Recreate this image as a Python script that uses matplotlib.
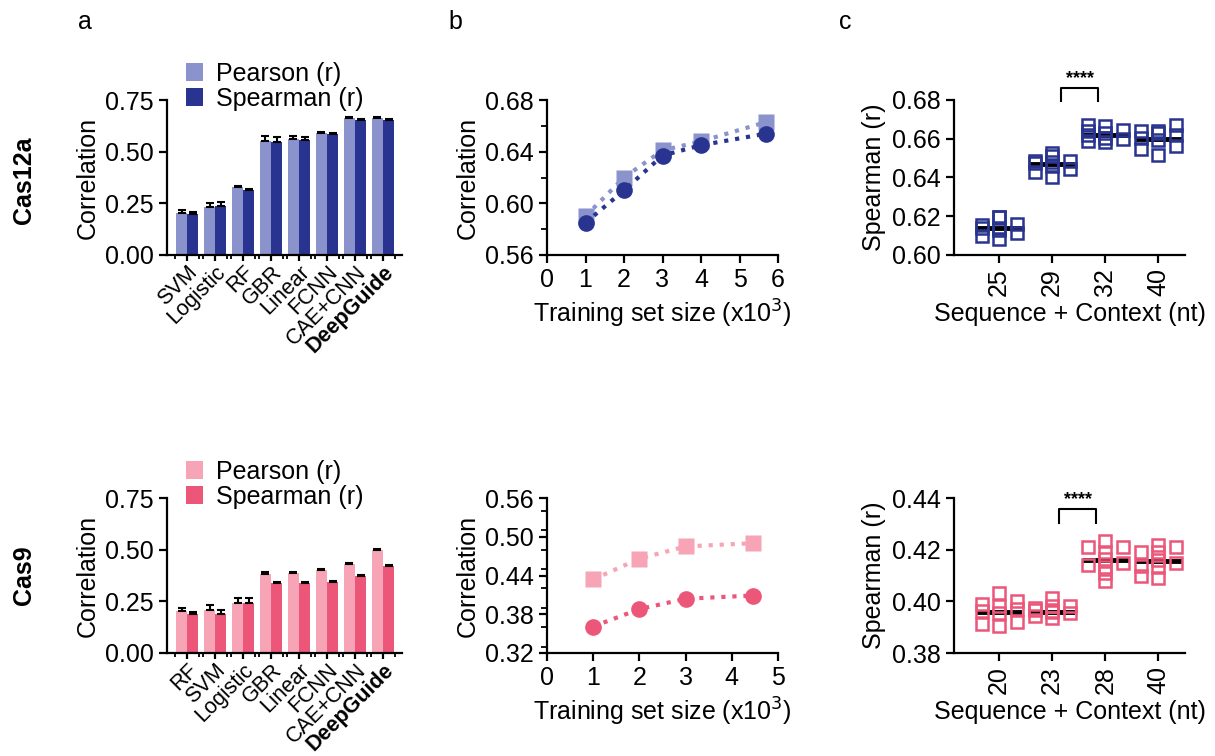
import numpy as np
import matplotlib.pyplot as plt
from matplotlib.ticker import MultipleLocator, FixedLocator

plt.rcParams['font.family'] = ['Liberation Sans', 'DejaVu Sans']
plt.rcParams['font.size'] = 18
plt.rcParams['axes.linewidth'] = 1.6
plt.rcParams['xtick.major.width'] = 1.6
plt.rcParams['ytick.major.width'] = 1.6
plt.rcParams['xtick.major.size'] = 6
plt.rcParams['ytick.major.size'] = 6
plt.rcParams['xtick.minor.width'] = 1.3
plt.rcParams['ytick.minor.width'] = 1.3

# ---- data ----
models_12a = ["SVM", "Logistic", "RF", "GBR", "Linear", "FCNN", "CAE+CNN", "DeepGuide"]
pear_12a = [0.205, 0.234, 0.327, 0.552, 0.563, 0.590, 0.663, 0.663]
spear_12a = [0.200, 0.235, 0.315, 0.548, 0.558, 0.585, 0.655, 0.655]
pear_err_12a = [0.012, 0.020, 0.005, 0.022, 0.012, 0.005, 0.004, 0.004]
spear_err_12a = [0.010, 0.020, 0.006, 0.022, 0.012, 0.005, 0.004, 0.004]

models_9 = ["RF", "SVM", "Logistic", "GBR", "Linear", "FCNN", "CAE+CNN", "DeepGuide"]
pear_9 = [0.205, 0.210, 0.242, 0.384, 0.385, 0.403, 0.431, 0.498]
spear_9 = [0.189, 0.189, 0.242, 0.337, 0.340, 0.342, 0.371, 0.421]
pear_err_9 = [0.012, 0.020, 0.022, 0.006, 0.005, 0.005, 0.005, 0.005]
spear_err_9 = [0.010, 0.020, 0.022, 0.005, 0.005, 0.005, 0.005, 0.005]

size_12a = [1, 2, 3, 4, 5.7]
size_pear_12a = [0.590, 0.620, 0.641, 0.648, 0.663]
size_spear_12a = [0.585, 0.610, 0.637, 0.645, 0.654]

size_9 = [1, 2, 3, 4.45]
size_pear_9 = [0.434, 0.466, 0.485, 0.490]
size_spear_9 = [0.361, 0.388, 0.404, 0.409]

ctx_12a = ["25", "29", "32", "40"]
ctx_vals_12a = [
    [0.6161, 0.6139, 0.6084, 0.6099, 0.6195, 0.6195, 0.6153, 0.6139, 0.6130, 0.6113],
    [0.6513, 0.6484, 0.6475, 0.6458, 0.6446, 0.6426, 0.6405, 0.6526, 0.6484, 0.6478],
    [0.6672, 0.6664, 0.6638, 0.6629, 0.6603, 0.6598, 0.6586, 0.6581, 0.6643, 0.6620],
    [0.6672, 0.6638, 0.6620, 0.6603, 0.6560, 0.6547, 0.6518, 0.6629, 0.6595, 0.6641],
]
ctx_med_12a = [0.614, 0.647, 0.662, 0.660]

ctx_9 = ["20", "23", "28", "40"]
ctx_vals_9 = [
    [0.4003, 0.4032, 0.3970, 0.3981, 0.3991, 0.3955, 0.3920, 0.3912, 0.3903, 0.3961],
    [0.4013, 0.3981, 0.3961, 0.3955, 0.3935, 0.3942, 0.3974, 0.3983, 0.3959, 0.3965],
    [0.4235, 0.4209, 0.4209, 0.4190, 0.4148, 0.4132, 0.4140, 0.4110, 0.4080, 0.4164],
    [0.4219, 0.4209, 0.4190, 0.4190, 0.4161, 0.4148, 0.4132, 0.4135, 0.4100, 0.4090],
]
ctx_med_9 = [0.396, 0.396, 0.416, 0.4155]

blue_l, blue_d = "#8a93cc", "#28348f"
pink_l, pink_d = "#f7a5b6", "#ec5678"

fig = plt.figure(figsize=(12.15, 7.56), dpi=100)
W, H = 1215, 756


def add_ax(x0, y0, x1, y1):
    return fig.add_axes([x0 / W, 1 - y1 / H, (x1 - x0) / W, (y1 - y0) / H])


def style(ax):
    ax.spines['top'].set_visible(False)
    ax.spines['right'].set_visible(False)


def bars(ax, models, pear, spear, perr, serr, cl, cd):
    x = np.arange(len(models))
    z = np.zeros(len(models))
    ek = dict(ecolor='black', elinewidth=1.5, capsize=3, capthick=1.5)
    ax.bar(x - 0.2, pear, 0.38, color=cl, yerr=[z, perr], error_kw=ek, label="Pearson (r)")
    ax.bar(x + 0.2, spear, 0.38, color=cd, yerr=[z, serr], error_kw=ek, label="Spearman (r)")
    ax.set_xlim(-0.72, 7.68)
    ax.set_ylim(0, 0.75)
    ax.set_yticks([0, 0.25, 0.5, 0.75])
    ax.set_xticks(x)
    ax.xaxis.set_minor_locator(FixedLocator(np.concatenate([x - 0.42, x + 0.42])))
    ax.tick_params(axis='x', which='minor', length=3)
    ax.tick_params(axis='x', which='major', length=4, pad=1)
    ax.set_xticklabels(models, rotation=45, ha='right', rotation_mode='anchor', fontsize=15.5)
    ax.get_xticklabels()[-1].set_fontweight('bold')
    ax.set_ylabel("Correlation")
    ax.legend(loc='lower left', bbox_to_anchor=(0.08, 0.93), frameon=False, handlelength=0.7,
              handleheight=0.7, handletextpad=0.5, labelspacing=0.05, borderpad=0, borderaxespad=0)
    style(ax)


def lines(ax, xs, pear, spear, cl, cd, xmax, yt, ymin_step):
    ax.plot(xs, pear, ls=':', lw=3, color=cl, marker='s', ms=12, mec='none', zorder=2)
    ax.plot(xs, spear, ls=':', lw=3, color=cd, marker='o', ms=12, mec='none', zorder=3)
    ax.set_xlim(0, xmax)
    ax.set_xticks(range(xmax + 1))
    ax.set_ylim(yt[0], yt[-1])
    ax.set_yticks(yt)
    ax.yaxis.set_minor_locator(MultipleLocator(ymin_step))
    ax.tick_params(axis='y', which='minor', length=4)
    ax.set_xlabel("Training set size (x10$^3$)")
    ax.set_ylabel("Correlation")
    style(ax)


def swarm(vals, step, wx, hy):
    # simple beeswarm: place each point at the nearest free horizontal slot
    order = np.argsort(vals)
    placed = []
    offs = np.zeros(len(vals))
    cands = [0.0]
    for k in range(1, 3):
        cands += [-k * step, k * step]
    for i in order:
        y = vals[i]
        best, best_hits = cands[0], None
        for c in cands:
            hits = sum(1 for px, py in placed if abs(c - px) < wx and abs(y - py) < hy)
            if hits == 0:
                best = c
                break
            if best_hits is None or hits < best_hits:
                best, best_hits = c, hits
        placed.append((best, y))
        offs[i] = best
    return offs


def dots(ax, labels, vals, meds, color, yt, hy, br):
    for i, v in enumerate(vals):
        v = np.array(v)
        off = swarm(v, 0.165, 0.22, hy)
        ax.plot(i + off, v, ls='none', marker='s', ms=8.5, mfc='none', mec=color, mew=1.8, zorder=3)
        ax.plot([i - 0.38, i + 0.38], [meds[i], meds[i]], color='black', lw=3.5, zorder=2)
    ax.set_xlim(-0.85, 3.5)
    ax.set_ylim(yt[0], yt[-1])
    ax.set_yticks(yt)
    ax.set_xticks(range(len(labels)))
    ax.set_xticklabels(labels, rotation=90)
    ax.set_xlabel("Sequence + Context (nt)")
    ax.set_ylabel("Spearman (r)")
    x0, x1, ylo, yhi, ys = br
    ax.plot([x0, x0, x1, x1], [ylo, yhi, yhi, ylo], color='black', lw=1.5, clip_on=False)
    ax.text((x0 + x1) / 2, ys, "****", ha='center', va='bottom', fontsize=13, fontweight='bold')
    style(ax)


ax = add_ax(167, 100, 402, 255)
bars(ax, models_12a, pear_12a, spear_12a, pear_err_12a, spear_err_12a, blue_l, blue_d)
ax = add_ax(167, 498, 402, 653)
bars(ax, models_9, pear_9, spear_9, pear_err_9, spear_err_9, pink_l, pink_d)

ax = add_ax(547, 100, 778, 255)
lines(ax, size_12a, size_pear_12a, size_spear_12a, blue_l, blue_d, 6, [0.56, 0.60, 0.64, 0.68], 0.02)
ax = add_ax(547, 498, 778, 653)
lines(ax, size_9, size_pear_9, size_spear_9, pink_l, pink_d, 5, [0.32, 0.38, 0.44, 0.50, 0.56], 0.03)

ax = add_ax(954, 100, 1185, 255)
dots(ax, ctx_12a, ctx_vals_12a, ctx_med_12a, blue_d, [0.60, 0.62, 0.64, 0.66, 0.68], 0.0045,
     (1.17, 1.86, 0.6795, 0.6862, 0.6868))
ax = add_ax(954, 498, 1185, 653)
dots(ax, ctx_9, ctx_vals_9, ctx_med_9, pink_d, [0.38, 0.40, 0.42, 0.44], 0.0022,
     (1.13, 1.83, 0.4303, 0.4357, 0.4362))

fig.text(85 / W, 1 - 22 / H, "a", ha='center', va='center', fontsize=18)
fig.text(455 / W, 1 - 22 / H, "b", ha='center', va='center', fontsize=18)
fig.text(845 / W, 1 - 22 / H, "c", ha='center', va='center', fontsize=18)
fig.text(24 / W, 1 - 180 / H, "Cas12a", rotation=90, ha='center', va='center', fontsize=18, fontweight='bold')
fig.text(24 / W, 1 - 575 / H, "Cas9", rotation=90, ha='center', va='center', fontsize=18, fontweight='bold')

fig.savefig("out.png", dpi=100)
